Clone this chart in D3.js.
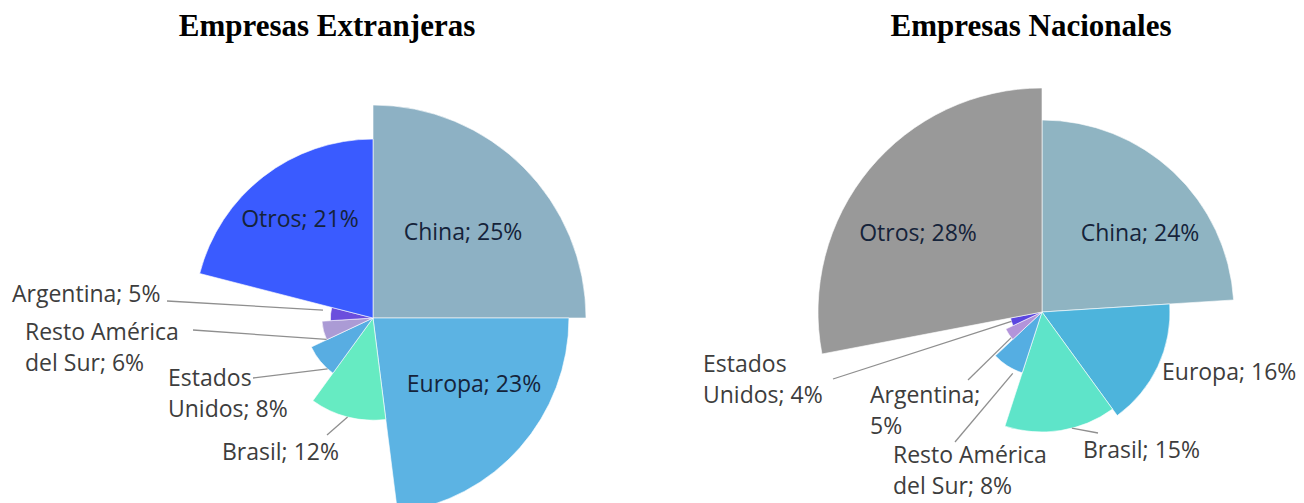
<!DOCTYPE html>
<html>
<head>
<meta charset="utf-8">
<script src="https://cdn.jsdelivr.net/npm/d3@7/dist/d3.min.js"></script>
<style>
	body { margin: 0; background: #fff; }
</style>
</head>
<body>
<svg></svg>
<script>
const width = 1304;
const height = 503;

// datos
const categoriasExt = ['China', 'Europa', 'Brasil', 'Estados Unidos', 'Resto América del Sur', 'Argentina', 'Otros'];
const valoresExt = [25, 23, 12, 8, 6, 5, 21];
const categoriasNac = ['China', 'Europa', 'Brasil', 'Resto América del Sur', 'Argentina', 'Estados Unidos', 'Otros'];
const valoresNac = [24, 16, 15, 8, 5, 4, 28];

const coloresExt = ['#8DB1C4', '#5CB3E3', '#66EBC2', '#58ADE2', '#AB9BD5', '#6B4EDD', '#3A5BFF'];
const coloresNac = ['#8FB4C2', '#4DB4DC', '#5EE4C9', '#55AEE2', '#B394DA', '#5B46E0', '#999999'];

// ubicacion de etiquetas, relativa al centro de cada torta
// [dx, dy, anchor, palabras en la primera linea, dentro, t en el arco, separacion, inicio de linea dx, dy]
const etiquetasExt = [
	[90, -78, 'middle', 0, true],
	[101, 74, 'middle', 0, true],
	[-151, 142, 'start', 0, false, 0.5, 0, -46, 117],
	[-205, 68, 'start', 1, false, 0.2, 0, -120, 60],
	[-348, 22, 'start', 2, false, 0.02, 0, -180, 12],
	[-361, -16, 'start', 0, false, 0.7, 8, -206, -17],
	[-73, -91, 'middle', 0, true]
];
const etiquetasNac = [
	[98, -71, 'middle', 0, true],
	[120, 68, 'start', 0, false],
	[41, 146, 'start', 0, false, 0.4, 0, 56, 121],
	[-149, 151, 'start', 2, false, 0.26, 4, -87, 130],
	[-172, 91, 'start', 1, false, 0.19, 0, -74, 68],
	[-339, 60, 'start', 1, false, 0.57, 0, -209, 67],
	[-124, -71, 'middle', 0, true]
];

const svg = d3.select('svg')
	.attr('width', width)
	.attr('height', height);

function dibujarTorta(titulo, tituloX, cx, cy, rMax, categorias, valores, colores, etiquetas) {
	svg.append('text')
		.attr('x', tituloX)
		.attr('y', 36)
		.attr('text-anchor', 'middle')
		.attr('font-family', 'Liberation Serif')
		.attr('font-weight', 'bold')
		.attr('font-size', 31)
		.attr('fill', '#000')
		.text(titulo);

	const datos = categorias.map((c, i) => ({ categoria: c, valor: valores[i], i: i }));

	const radio = d3.scaleLinear()
		.domain([0, d3.max(valores)])
		.range([0, rMax]);

	const pie = d3.pie()
		.sort(null)
		.value(d => d.valor);

	const arco = d3.arc()
		.innerRadius(0)
		.outerRadius(d => radio(d.data.valor));

	const g = svg.append('g')
		.attr('transform', `translate(${cx},${cy})`);

	const porciones = pie(datos);

	g.selectAll('path')
		.data(porciones)
		.enter()
		.append('path')
		.attr('d', arco)
		.attr('fill', d => colores[d.data.i])
		.attr('stroke', '#fff')
		.attr('stroke-opacity', 0.6)
		.attr('stroke-width', 1);

	// lineas guia
	porciones.forEach(d => {
		const e = etiquetas[d.data.i];
		if (e[5] === undefined) return;
		const ang = d.startAngle + (d.endAngle - d.startAngle) * e[5];
		const r = radio(d.data.valor) + e[6];
		g.append('line')
			.attr('x1', e[7])
			.attr('y1', e[8])
			.attr('x2', Math.sin(ang) * r)
			.attr('y2', -Math.cos(ang) * r)
			.attr('stroke', '#8f8f8f')
			.attr('stroke-width', 1.3);
	});

	porciones.forEach(d => {
		const e = etiquetas[d.data.i];
		const palabras = `${d.data.categoria}; ${d.data.valor}%`.split(' ');
		const lineas = e[3] ? [palabras.slice(0, e[3]).join(' '), palabras.slice(e[3]).join(' ')] : [palabras.join(' ')];
		const t = g.append('text')
			.attr('text-anchor', e[2])
			.attr('font-family', 'Open Sans')
			.attr('font-size', 23)
			.attr('fill', e[4] ? '#15233a' : '#3d3d3d');
		lineas.forEach((l, k) => {
			t.append('tspan')
				.attr('x', e[0])
				.attr('y', e[1] + k * 30.5)
				.text(l);
		});
	});
}

dibujarTorta('Empresas Extranjeras', 327, 373, 318, 213, categoriasExt, valoresExt, coloresExt, etiquetasExt);
dibujarTorta('Empresas Nacionales', 1031, 1042, 312, 224, categoriasNac, valoresNac, coloresNac, etiquetasNac);
</script>
</body>
</html>
